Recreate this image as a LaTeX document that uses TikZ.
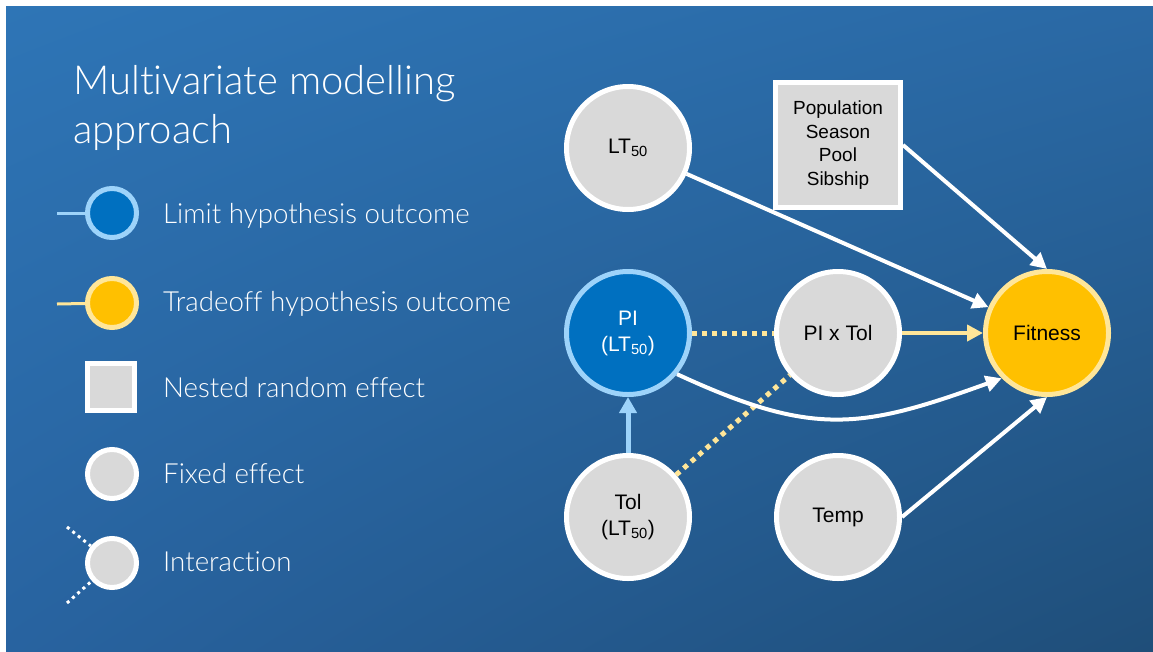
\documentclass[tikz,border=0pt]{standalone}
\usepackage{fontspec}
\setmainfont{Liberation Sans}
\newfontfamily\lightfont{Lato Light}[Ligatures={NoCommon,NoRare}]
\usetikzlibrary{arrows.meta,shadings}
\definecolor{bgA}{HTML}{2E75B6}
\definecolor{bgB}{HTML}{2A69A5}
\definecolor{bgC}{HTML}{2863A0}
\definecolor{bgD}{HTML}{1F4E79}
\definecolor{grayc}{HTML}{D9D9D9}
\definecolor{dblue}{HTML}{0070C0}
\definecolor{lblue}{HTML}{9DD3FA}
\definecolor{yel}{HTML}{FFC000}
\definecolor{lyel}{HTML}{FFE699}
\tikzset{
  gnode/.style={circle, draw=white, fill=grayc, line width=5pt, minimum size=123pt,
    inner sep=0pt, align=center, text=black, font=\fontsize{21}{26}\selectfont},
  bnode/.style={gnode, draw=lblue, fill=dblue, text=white},
  ynode/.style={gnode, draw=lyel, fill=yel},
  boxnode/.style={rectangle, draw=white, fill=grayc, line width=5pt, minimum size=125pt,
    inner sep=0pt, align=center, text=black, font=\fontsize{19}{23.5}\selectfont},
  warrow/.style={draw=white, line width=4pt, -{Triangle[length=16pt,width=16pt]}},
  yarrow/.style={draw=lyel, line width=4pt, -{Triangle[length=16pt,width=16pt]}},
  barrow/.style={draw=lblue, line width=5pt, -{Triangle[length=16pt,width=17pt]}},
  ydot/.style={draw=lyel, line width=5pt, dash pattern=on 5pt off 5pt},
  wdot/.style={draw=white, line width=3pt, dash pattern=on 3pt off 4pt},
  legtext/.style={anchor=base west, inner sep=0pt, text=white, font=\lightfont\fontsize{27.7}{33}\selectfont},
  titletext/.style={anchor=base west, inner sep=0pt, text=white, font=\lightfont\fontsize{40}{48}\selectfont}
}
\begin{document}
\begin{tikzpicture}[x=1pt,y=-1pt]
\useasboundingbox (0,0) rectangle (1153,651);
\fill[white] (0,0) rectangle (1153,651);
\shade[upper left=bgA, upper right=bgB, lower left=bgC, lower right=bgD] (6,6) rectangle (1153,651);

% title
\node[titletext] (t1) at (73,94) {Multivariate modelling};
\node[titletext] (t2) at (73,143) {approach};

% legend
\node[bnode, minimum size=49pt] (lg1) at (112,213) {};
\coordinate (lg1s) at (57,213);
\draw[lblue, line width=3pt] (lg1s) -- (lg1);
\node[legtext] (lt1) at (163,223) {Limit hypothesis outcome};

\node[ynode, minimum size=49pt] (lg2) at (112,303) {};
\coordinate (lg2s) at (57,304);
\draw[lyel, line width=3pt] (lg2s) -- (lg2);
\node[legtext] (lt2) at (163,311) {Tradeoff hypothesis outcome};

\node[boxnode, minimum size=47pt] (lg3) at (111,387) {};
\node[legtext] (lt3) at (163,397) {Nested random effect};

\node[gnode, minimum size=49pt] (lg4) at (112,474) {};
\node[legtext] (lt4) at (163,483) {Fixed effect};

\node[gnode, minimum size=49pt] (lg5) at (112,563) {};
\coordinate (lg5a) at (67,527);
\coordinate (lg5b) at (67,603);
\draw[wdot] (lg5a) -- (lg5);
\draw[wdot] (lg5b) -- (lg5);
\node[legtext] (lt5) at (163,571) {Interaction};

% diagram nodes
\node[gnode] (lt) at (628,148) {LT\textsubscript{50}};
\node[boxnode] (box) at (838,145) {Population\\Season\\Pool\\Sibship};
\node[bnode] (pi) at (628,333) {PI\\(LT\textsubscript{50})};
\node[gnode] (pxt) at (838,333) {PI x Tol};
\node[ynode] (fit) at (1047,333) {Fitness};
\node[gnode] (tol) at (628,517) {Tol\\(LT\textsubscript{50})};
\node[gnode] (temp) at (838,517) {Temp};

% connectors
\draw[warrow] (lt) -- (fit);
\draw[warrow] (box.east) -- (fit.north);
\draw[yarrow] (pxt) -- (fit);
\draw[ydot] (pi) -- (pxt);
\draw[ydot] (tol) -- (pxt);
\draw[barrow] (tol) -- (pi);
\draw[warrow] (pi.-40) .. controls +(136,63) and +(-141,51) .. (fit.-135);
\draw[warrow] (temp.east) -- (fit.south);
\end{tikzpicture}
\end{document}
